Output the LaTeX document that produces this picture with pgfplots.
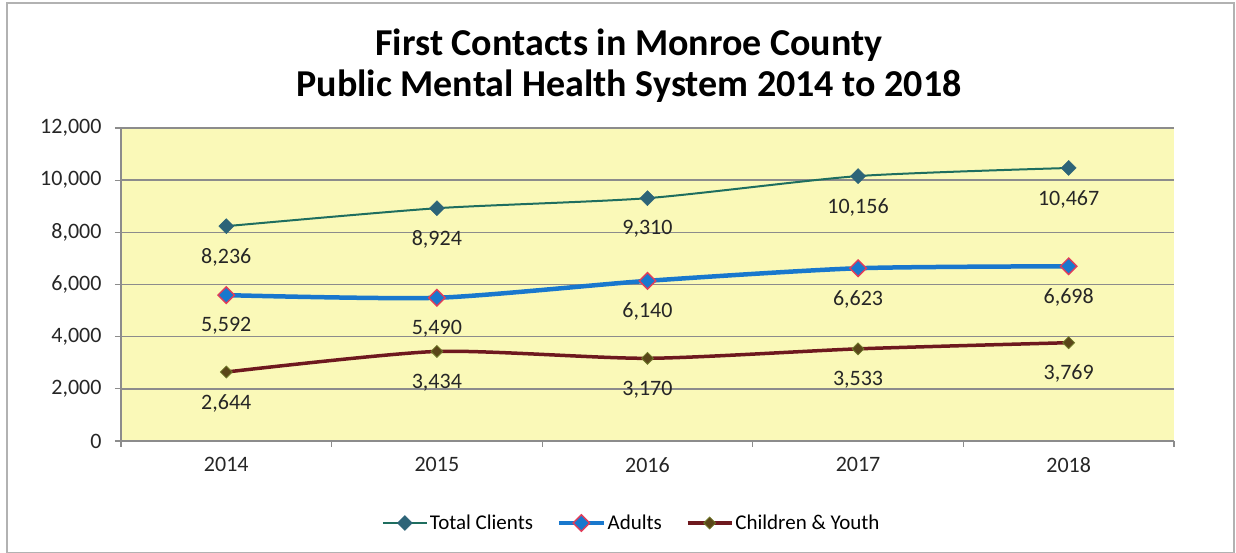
\documentclass[border=0pt]{standalone}
\usepackage{pgfplots}
\pgfplotsset{compat=1.18}
\usepackage{fontspec}
\setmainfont{Carlito}
\definecolor{bgy}{RGB}{250,249,184}
\definecolor{tealL}{RGB}{30,110,95}
\definecolor{tealM}{RGB}{45,100,120}
\definecolor{blueL}{RGB}{25,120,205}
\definecolor{redB}{RGB}{225,60,90}
\definecolor{maroonL}{RGB}{110,25,30}
\definecolor{oliveM}{RGB}{90,70,25}
\definecolor{oliveB}{RGB}{110,120,40}
\definecolor{gridg}{RGB}{140,140,140}
\begin{document}
\begin{tikzpicture}[x=1pt,y=1pt]
\useasboundingbox (-121,-112) rectangle (1115,441);
\draw[gray!60, line width=1.5pt] (-114,-111.5) rectangle (1113,438);
\node[font=\fontsize{38}{41}\selectfont\bfseries, align=center] at (508,375) {First Contacts in Monroe County\\Public Mental Health System 2014 to 2018};
\begin{axis}[
  scale only axis, width=1053pt, height=313pt,
  xmin=-0.5, xmax=4.5, ymin=0, ymax=12000,
  axis x line*=bottom, axis y line*=left,
  axis line style={gridg, line width=1.2pt},
  axis background/.style={fill=bgy},
  xtick={0,1,2,3,4}, xticklabels={2014,2015,2016,2017,2018},
  minor xtick={-0.5,0.5,1.5,2.5,3.5,4.5},
  major x tick style={draw=none},
  minor x tick style={gridg, line width=1.2pt},
  minor tick length=6pt,
  ytick={0,2000,...,12000},
  scaled y ticks=false,
  major tick length=6pt,
  tick align=outside,
  y tick style={gridg, line width=1.2pt},
  ymajorgrids, grid style={gridg, line width=1.5pt},
  /pgf/number format/.cd, fixed, 1000 sep={,}, assume math mode=true,
  /pgfplots/.cd,
  tick label style={font=\fontsize{22}{24}\selectfont, text=black!85},
  yticklabel style={xshift=-10pt},
  xticklabel style={yshift=-7pt},
  nodes near coords,
  every node near coord/.append style={font=\fontsize{22}{24}\selectfont, text=black!85, anchor=center, yshift=-31pt},
  legend columns=3,
  legend style={draw=none, fill=none, at={(0.485,-0.262)}, anchor=center,
    font=\fontsize{21}{24}\selectfont,
    /tikz/every even column/.append style={column sep=22pt}},
  legend image code/.code={\draw[mark repeat=2,mark phase=2] plot coordinates {(0pt,0pt) (22pt,0pt) (44pt,0pt)};},
  clip=false,
]
\addplot[tealL, line width=2pt, smooth, tension=0.4, mark=square*, mark size=5.3pt,
  mark options={solid, rotate=45, fill=tealM, draw=tealM, line width=0.5pt}]
  coordinates {(0,8236) (1,8924) (2,9310) (3,10156) (4,10467)};
\addlegendentry{Total Clients}
\addplot[blueL, line width=4.5pt, smooth, tension=0.4, mark=square*, mark size=5.8pt,
  mark options={solid, rotate=45, fill=blueL, draw=redB, line width=1.4pt}]
  coordinates {(0,5592) (1,5490) (2,6140) (3,6623) (4,6698)};
\addlegendentry{Adults}
\addplot[maroonL, line width=3.5pt, smooth, tension=0.4, mark=square*, mark size=4.2pt,
  mark options={solid, rotate=45, fill=oliveM, draw=oliveB, line width=0.8pt}]
  coordinates {(0,2644) (1,3434) (2,3170) (3,3533) (4,3769)};
\addlegendentry{Children \& Youth}
\end{axis}
\end{tikzpicture}
\end{document}
